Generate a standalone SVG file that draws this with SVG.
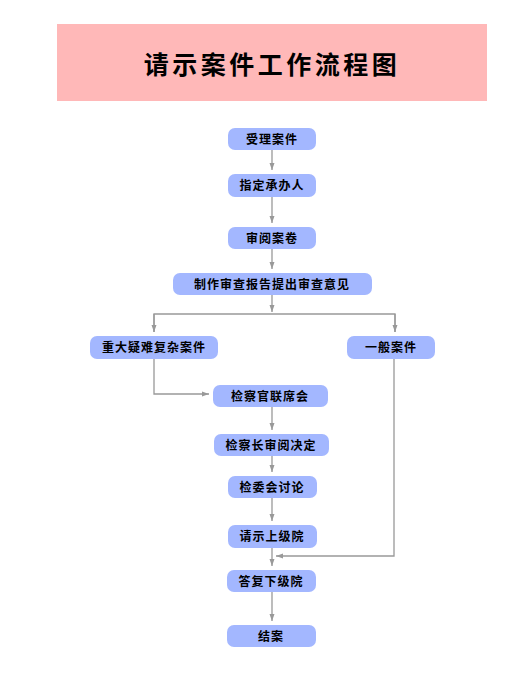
<svg xmlns="http://www.w3.org/2000/svg" width="519" height="676" viewBox="0 0 519 676">
<style>
.n rect{fill:#A3B7FF;}
.n text{font-family:"Liberation Sans","Noto Sans CJK SC",sans-serif;font-size:12px;font-weight:bold;fill:#000;text-anchor:middle;letter-spacing:1px;}
.c path{fill:none;stroke:#999;stroke-width:1.3;}
</style>
<defs>
<marker id="a" markerUnits="userSpaceOnUse" markerWidth="8" markerHeight="6" refX="7" refY="3" orient="auto">
<path d="M0,0.5 L7,3 L0,5.5 z" fill="#999"/>
</marker>
</defs>
<rect x="57" y="24" width="430" height="77" fill="#FFB8B8"/>
<text x="272" y="74" font-family="Liberation Sans,'Noto Sans CJK SC',sans-serif" font-size="25" font-weight="bold" text-anchor="middle" letter-spacing="3.5">请示案件工作流程图</text>
<g class="c">
<path d="M272,150 V170" marker-end="url(#a)"/>
<path d="M272,197 V223" marker-end="url(#a)"/>
<path d="M272,249 V269" marker-end="url(#a)"/>
<path d="M272,295 V312" marker-end="url(#a)"/>
<path d="M154,332 V314 H395 V332"/>
<path d="M154,314 V332" marker-end="url(#a)"/>
<path d="M395,314 V332" marker-end="url(#a)"/>
<path d="M154,359 V394 H209" marker-end="url(#a)"/>
<path d="M272,407 V430" marker-end="url(#a)"/>
<path d="M272,456 V472" marker-end="url(#a)"/>
<path d="M272,498 V521" marker-end="url(#a)"/>
<path d="M272,548 V566" marker-end="url(#a)"/>
<path d="M394,359 V556 H276" marker-end="url(#a)"/>
<path d="M272,592 V621" marker-end="url(#a)"/>
</g>
<g id="n1" class="n"><rect x="228" y="128" width="88" height="22" rx="7"/><text x="272" y="144">受理案件</text></g>
<g id="n2" class="n"><rect x="228" y="174" width="88" height="23" rx="7"/><text x="272" y="190">指定承办人</text></g>
<g id="n3" class="n"><rect x="228" y="227" width="88" height="22" rx="7"/><text x="272" y="243">审阅案卷</text></g>
<g id="n4" class="n"><rect x="173" y="273" width="199" height="22" rx="7"/><text x="272" y="289">制作审查报告提出审查意见</text></g>
<g id="n5" class="n"><rect x="90" y="336" width="128" height="23" rx="7"/><text x="154" y="352">重大疑难复杂案件</text></g>
<g id="n6" class="n"><rect x="347" y="336" width="88" height="23" rx="7"/><text x="391" y="352">一般案件</text></g>
<g id="n7" class="n"><rect x="213" y="385" width="115" height="22" rx="7"/><text x="270" y="401">检察官联席会</text></g>
<g id="n8" class="n"><rect x="214" y="434" width="115" height="22" rx="7"/><text x="271" y="450">检察长审阅决定</text></g>
<g id="n9" class="n"><rect x="228" y="476" width="89" height="22" rx="7"/><text x="272" y="492">检委会讨论</text></g>
<g id="n10" class="n"><rect x="228" y="525" width="89" height="23" rx="7"/><text x="272" y="541">请示上级院</text></g>
<g id="n11" class="n"><rect x="227" y="570" width="89" height="22" rx="7"/><text x="271" y="586">答复下级院</text></g>
<g id="n12" class="n"><rect x="227" y="625" width="89" height="22" rx="7"/><text x="271" y="641">结案</text></g>
</svg>
